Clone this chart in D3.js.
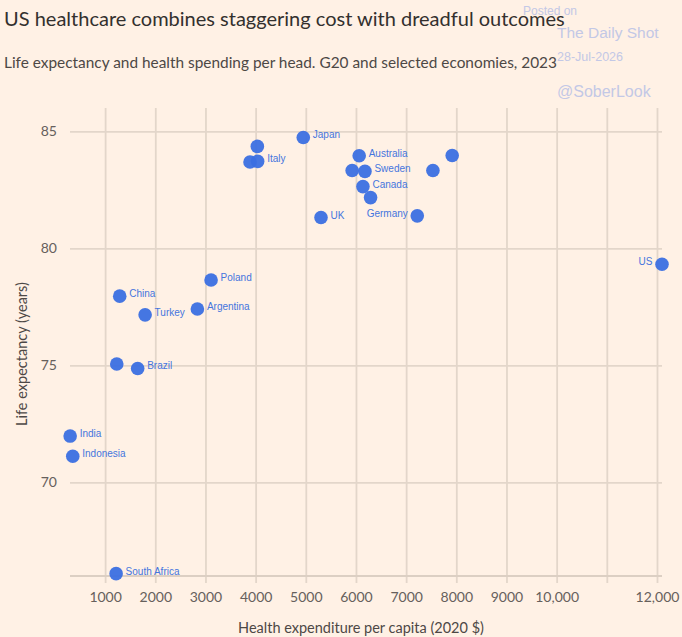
<!DOCTYPE html>
<html>
<head>
<meta charset="utf-8">
<script src="https://cdn.jsdelivr.net/npm/d3@7"></script>
<style>
  html, body { margin: 0; padding: 0; background: #fff1e5; }
  svg { display: block; }
</style>
</head>
<body>
<div id="chart"></div>
<script>
// values
const countries = ["Japan", "", "", "Italy", "Australia", "", "Sweden", "Canada", "", "UK",
  "Germany", "", "", "US", "Poland", "China", "Turkey", "Argentina", "", "Brazil",
  "India", "Indonesia", "South Africa"];
const spending = [4950, 4034, 3888, 4040, 6064, 5924, 6179, 6139, 6291, 5303,
  7222, 7534, 7918, 12100, 3112, 1291, 1797, 2839, 1232, 1649,
  303, 355, 1219];
const lifeExp = [84.74, 84.36, 83.69, 83.72, 83.96, 83.33, 83.29, 82.64, 82.17, 81.32,
  81.39, 83.33, 83.97, 79.32, 78.65, 77.96, 77.16, 77.41, 75.06, 74.87,
  71.98, 71.12, 66.1];
// which side of the dot the name goes
const labelSide = ["r", "r", "r", "r", "r", "r", "r", "r", "r", "r",
  "l", "r", "r", "l", "r", "r", "r", "r", "r", "r",
  "r", "r", "r"];

const xTicks = [1000, 2000, 3000, 4000, 5000, 6000, 7000, 8000, 9000, 10000, 11000, 12000];
const xTickLabels = ["1000", "2000", "3000", "4000", "5000", "6000", "7000", "8000", "9000", "10,000", "", "12,000"];
const yTicks = [70, 75, 80, 85];

const W = 682, H = 637;
const margin = { top: 108, right: 20, bottom: 61, left: 70 },
    width = W - margin.left - margin.right,
    height = H - margin.top - margin.bottom;

const svg = d3.select("#chart")
    .append("svg")
    .attr("width", W)
    .attr("height", H)
    .style("background", "#fff1e5");

// titles
svg.append("text")
    .attr("x", 4).attr("y", 26)
    .attr("font-family", "Lato, sans-serif")
    .attr("font-size", 20)
    .attr("fill", "#33302e")
    .text("US healthcare combines staggering cost with dreadful outcomes");

svg.append("text")
    .attr("x", 4).attr("y", 68)
    .attr("font-family", "Lato, sans-serif")
    .attr("font-size", 15.4)
    .attr("fill", "#4d4845")
    .text("Life expectancy and health spending per head. G20 and selected economies, 2023");

// watermark
const wm = svg.append("g")
    .attr("font-family", "'Liberation Sans', Arial, sans-serif")
    .attr("fill", "#c3c8e6");
wm.append("text").attr("x", 523).attr("y", 15).attr("font-size", 12).text("Posted on");
wm.append("text").attr("x", 557).attr("y", 38).attr("font-size", 15.5).text("The Daily Shot");
wm.append("text").attr("x", 557).attr("y", 61).attr("font-size", 12.5).text("28-Jul-2026");
wm.append("text").attr("x", 557).attr("y", 97).attr("font-size", 16).text("@SoberLook");

const g = svg.append("g")
    .attr("transform", `translate(${margin.left},${margin.top})`);

const x = d3.scaleLinear()
    .domain([300, 12100])
    .range([0, width]);

const y = d3.scaleLinear()
    .domain([66, 86])
    .range([height, 0]);

const gridColor = "#e3d6ca";

// vertical grid, running into the tick marks below the baseline
const xAxis = g.append("g")
    .attr("transform", `translate(0,${height})`)
    .call(d3.axisBottom(x)
        .tickValues(xTicks)
        .tickSize(7)
        .tickSizeOuter(0)
        .tickPadding(9)
        .tickFormat((d, i) => xTickLabels[i]));
xAxis.selectAll(".tick line")
    .attr("y1", -height)
    .attr("y2", 7)
    .attr("stroke", gridColor)
    .attr("stroke-width", 1.8);
xAxis.select(".domain").remove();
xAxis.selectAll("text")
    .attr("font-family", "Lato, sans-serif")
    .attr("font-size", 14)
    .attr("fill", "#66605c");

// horizontal grid
const yAxis = g.append("g")
    .call(d3.axisLeft(y)
        .tickValues(yTicks)
        .tickSize(-width)
        .tickPadding(13));
yAxis.select(".domain").remove();
yAxis.selectAll(".tick line")
    .attr("stroke", gridColor)
    .attr("stroke-width", 1.8);
yAxis.selectAll("text")
    .attr("font-family", "Lato, sans-serif")
    .attr("font-size", 14)
    .attr("fill", "#66605c");

// baseline
g.append("line")
    .attr("x1", 0).attr("x2", width)
    .attr("y1", y(66)).attr("y2", y(66))
    .attr("stroke", "#dccfc3")
    .attr("stroke-width", 2);

// axis titles
svg.append("text")
    .attr("x", 361).attr("y", 633)
    .attr("text-anchor", "middle")
    .attr("font-family", "Lato, sans-serif")
    .attr("font-size", 14.5)
    .attr("fill", "#4d4845")
    .text("Health expenditure per capita (2020 $)");

svg.append("text")
    .attr("transform", "translate(27,354) rotate(-90)")
    .attr("text-anchor", "middle")
    .attr("font-family", "Lato, sans-serif")
    .attr("font-size", 14.5)
    .attr("fill", "#4d4845")
    .text("Life expectancy (years)");

// dots
const pts = countries.map((c, i) => ({ name: c, x: spending[i], y: lifeExp[i], side: labelSide[i] }));

g.selectAll(".dot")
    .data(pts)
    .join("circle")
    .attr("class", "dot")
    .attr("cx", d => x(d.x))
    .attr("cy", d => y(d.y))
    .attr("r", 6.8)
    .attr("fill", "#3b6fe2")
    .attr("fill-opacity", 0.95);

g.selectAll(".lbl")
    .data(pts.filter(d => d.name !== ""))
    .join("text")
    .attr("class", "lbl")
    .attr("x", d => x(d.x) + (d.side === "r" ? 9.5 : -9.5))
    .attr("y", d => y(d.y) - 2.5)
    .attr("dy", "0.35em")
    .attr("text-anchor", d => d.side === "r" ? "start" : "end")
    .attr("font-family", "'Liberation Sans', Arial, sans-serif")
    .attr("font-size", 10)
    .attr("fill", "#4575de")
    .text(d => d.name);
</script>
</body>
</html>
